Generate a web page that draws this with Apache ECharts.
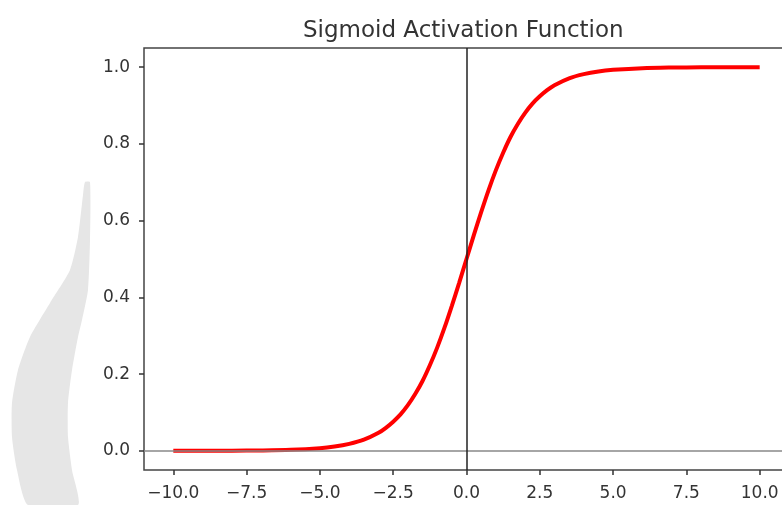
<!DOCTYPE html>
<html>
<head>
<meta charset="utf-8">
<script src="https://cdn.jsdelivr.net/npm/echarts@6/dist/echarts.min.js"></script>
<style>
  html, body { margin: 0; padding: 0; background: #ffffff; }
  #chart { width: 782px; height: 505px; }
</style>
</head>
<body>
<div id="chart"></div>
<script>
// ---- data ----
const titleText = "Sigmoid Activation Function";
const xValues = [-10, -9, -8, -7, -6, -5, -4.5, -4, -3.5, -3, -2.75, -2.5, -2.25, -2, -1.75, -1.5, -1.25, -1, -0.75, -0.5, -0.25,
                 0, 0.25, 0.5, 0.75, 1, 1.25, 1.5, 1.75, 2, 2.25, 2.5, 2.75, 3, 3.5, 4, 4.5, 5, 6, 7, 8, 9, 10];
const yValues = [0.0000, 0.0001, 0.0003, 0.0009, 0.0025, 0.0067, 0.011, 0.018, 0.029, 0.047, 0.060, 0.076, 0.095, 0.119, 0.148, 0.182, 0.223, 0.269, 0.321, 0.378, 0.438,
                 0.500, 0.562, 0.622, 0.679, 0.731, 0.777, 0.818, 0.852, 0.881, 0.905, 0.924, 0.940, 0.953, 0.971, 0.982, 0.989, 0.993, 0.9975, 0.9991, 0.9997, 0.9999, 1.0000];
const xTicks = [-10, -7.5, -5, -2.5, 0, 2.5, 5, 7.5, 10];
const yTicks = [0, 0.2, 0.4, 0.6, 0.8, 1.0];
const xRange = [-11, 11];
const yRange = [-0.05, 1.05];

const fmt = v => (v < 0 ? '\u2212' + Math.abs(v).toFixed(1) : v.toFixed(1));
const FONT = 'DejaVu Sans';

const chart = echarts.init(document.getElementById('chart'), null, { renderer: 'canvas' });
chart.setOption({
  animation: false,
  backgroundColor: '#ffffff',
  title: {
    text: titleText,
    left: 298,
    top: 15,
    textStyle: { fontFamily: FONT, fontSize: 23, fontWeight: 'normal', color: '#333333' }
  },
  graphic: [{
    type: 'polygon',
    z: -10,
    silent: true,
    shape: {
      points: [[85, 182], [90, 182], [90, 240], [88, 290], [82, 320], [78, 337], [72, 370], [68, 403], [68, 437],
               [72, 470], [78, 505], [28, 505], [17, 470], [12, 437], [12, 403], [18, 370], [30, 337], [50, 303],
               [70, 270], [78, 237], [83, 195]],
      smooth: 0.2
    },
    style: { fill: '#e6e6e6' }
  }],
  grid: {
    left: 144, top: 48, width: 645, height: 422,
    outerBoundsMode: 'none', containLabel: false,
    show: true, borderColor: '#444444', borderWidth: 1.5, backgroundColor: 'transparent'
  },
  xAxis: {
    type: 'value', min: xRange[0], max: xRange[1],
    splitLine: { show: false },
    axisLine: { show: false, onZero: false },
    axisTick: { show: true, length: 5, inside: false, customValues: xTicks, lineStyle: { color: '#333333', width: 1.5 } },
    axisLabel: { customValues: xTicks, margin: 15, formatter: fmt, fontFamily: FONT, fontSize: 17, color: '#333333' }
  },
  yAxis: {
    type: 'value', min: yRange[0], max: yRange[1],
    splitLine: { show: false },
    axisLine: { show: false, onZero: false },
    axisTick: { show: true, length: 5, inside: false, customValues: yTicks, lineStyle: { color: '#333333', width: 1.5 } },
    axisLabel: { customValues: yTicks, margin: 14, formatter: fmt, fontFamily: FONT, fontSize: 17, color: '#333333' }
  },
  series: [
    {
      type: 'line', z: 1, data: [], silent: true,
      markLine: {
        silent: true, symbol: 'none', label: { show: false },
        lineStyle: { color: '#888888', width: 1.5, type: 'solid' },
        data: [{ yAxis: 0 }]
      }
    },
    {
      name: 'sigmoid', type: 'line', z: 3,
      data: xValues.map((x, i) => [x, yValues[i]]),
      smooth: 0.3, showSymbol: false,
      lineStyle: { color: '#ff0000', width: 4 }
    },
    {
      type: 'line', z: 5, data: [], silent: true,
      markLine: {
        silent: true, symbol: 'none', label: { show: false },
        lineStyle: { color: '#222222', width: 1.5, type: 'solid' },
        data: [{ xAxis: 0 }]
      }
    }
  ]
});
</script>
</body>
</html>
